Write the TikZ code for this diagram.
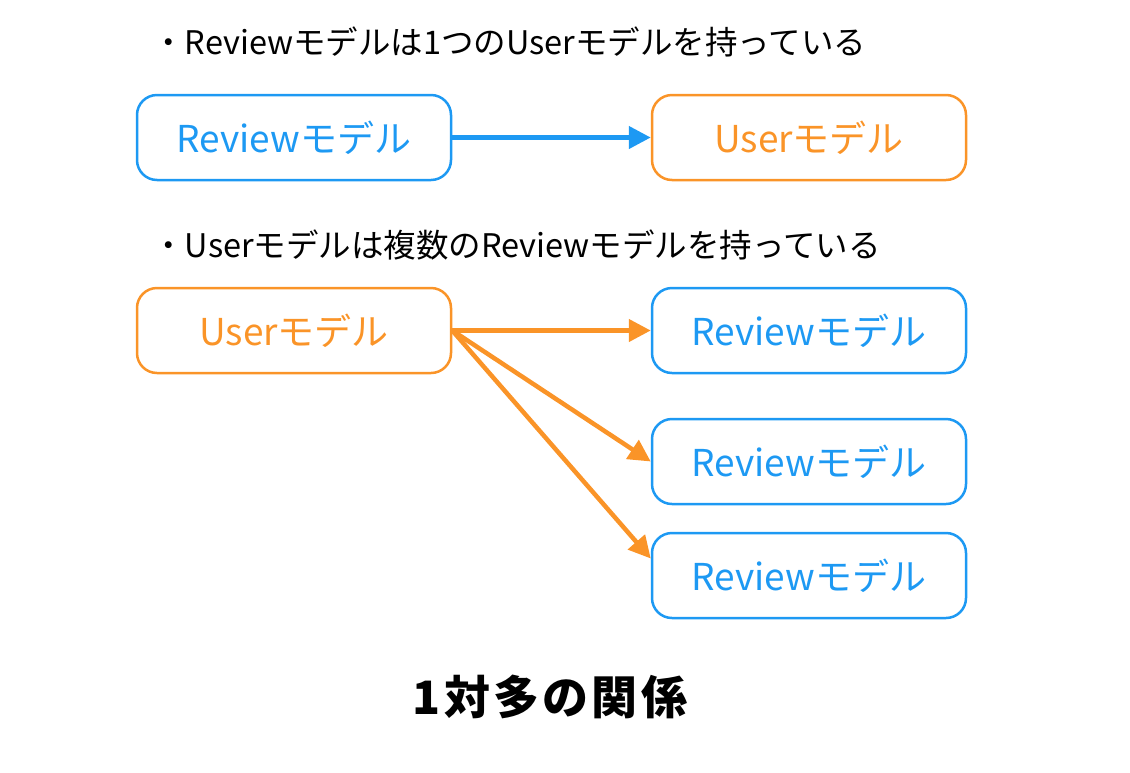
\documentclass[tikz,border=0pt]{standalone}
\usepackage{fontspec}
\setmainfont{Noto Sans CJK JP}
\usetikzlibrary{arrows.meta}
\definecolor{revblue}{RGB}{29,153,243}
\definecolor{usrorange}{RGB}{250,148,40}

\begin{document}
\begin{tikzpicture}[x=1pt, y=-1pt,
    model/.style={rectangle, rounded corners=20pt, draw, line width=2.5pt, minimum width=314pt, minimum height=85pt, font=\fontsize{37}{40}\selectfont},
    rev/.style={model, draw=revblue, text=revblue},
    usr/.style={model, draw=usrorange, text=usrorange},
    rel/.style={line width=4.5pt, -{Triangle[length=22pt, width=22pt]}},
    note/.style={anchor=west, inner sep=0, font=\fontsize{32.5}{36}\selectfont}]
    \useasboundingbox (0,0) rectangle (1130,772);
    % Review -> User
    \node[note] (n1) at (152,42) {・Reviewモデルは1つのUserモデルを持っている};
    \node[rev] (r0) at (294,137.5) {Reviewモデル};
    \node[usr] (u0) at (809,137.5) {Userモデル};
    \draw[rel, revblue] (r0) -- (u0);
    % User -> Review (many)
    \node[note] (n2) at (152,245) {・Userモデルは複数のReviewモデルを持っている};
    \node[usr] (u1) at (294,330.5) {Userモデル};
    \node[rev] (r1) at (809,330.5) {Reviewモデル};
    \node[rev] (r2) at (809,461.5) {Reviewモデル};
    \node[rev] (r3) at (809,575.5) {Reviewモデル};
    \draw[rel, usrorange] (u1.east) -- (r1.west);
    \draw[rel, usrorange] (u1.east) -- (r2.west);
    \draw[rel, usrorange] (u1.east) -- ([yshift=17pt]r3.west);
    \node[font=\bfseries\fontsize{46}{50}\selectfont\addfontfeatures{LetterSpace=7}] (ttl) at (550,697) {1対多の関係};
\end{tikzpicture}
\end{document}
